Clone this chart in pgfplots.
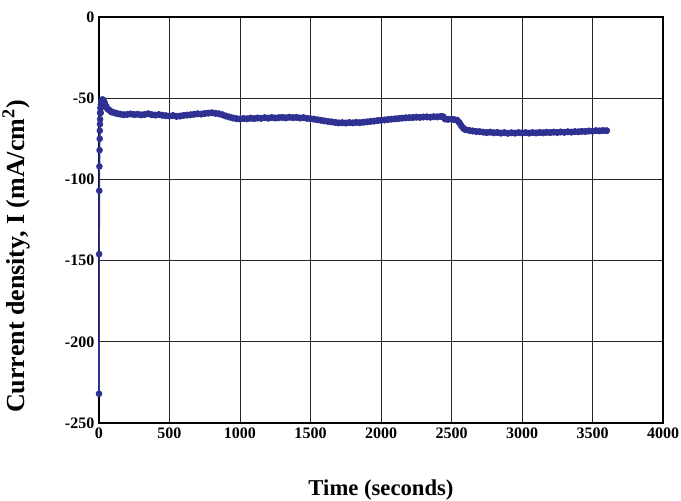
\documentclass[border=0pt]{standalone}
\usepackage{pgfplots}
\pgfplotsset{compat=1.18}
\usepackage{fontspec}
\setmainfont{Liberation Serif}
\definecolor{datablue}{RGB}{46,49,146}

\begin{document}
\begin{tikzpicture}
	\begin{axis}[
		scale only axis,
		width=423pt,
		height=304.5pt,
		xmin=0, xmax=4000,
		ymin=-250, ymax=0,
		xtick distance=500,
		ytick distance=50,
		grid=major,
		major grid style={black!85, line width=0.6pt},
		axis line style={black, line width=1.3pt},
		tick style={draw=none},
		clip=false,
		/pgf/number format/assume math mode=true,
		/pgf/number format/1000 sep={},
		tick label style={font=\bfseries\fontsize{12}{14}\selectfont},
		xlabel={Time (seconds)},
		ylabel={Current density, I (mA/cm\textsuperscript{2})},
		xlabel style={font=\bfseries\fontsize{17}{20}\selectfont, at={(axis description cs:0.5,-0.165)}, anchor=center},
		ylabel style={font=\bfseries\fontsize{19.5}{22}\selectfont, at={(axis description cs:-0.147,0.41)}, anchor=center},
	]
		% first seconds: steep rise, thin line
		\addplot[datablue, line width=1.2pt, mark=*, mark size=2.2pt, mark options={fill=datablue, draw=datablue, line width=0.5pt}]
			coordinates {
			(0,-232) (1,-146) (2,-107) (3,-92) (4,-82) (5,-75) (6,-70) (7,-66) (8,-63)
			(10,-59)
			};
		% rest of the run
		\addplot[datablue, line width=2.6pt, mark=*, mark size=2.4pt, mark options={fill=datablue, draw=datablue, line width=0.5pt}]
			coordinates {
			(10,-59) (12,-56) (15,-54) (18,-52) (22,-51) (27,-51) (33,-52) (40,-53)
			(50,-55) (60,-56.5) (75,-57.5) (90,-58.5) (110,-59) (130,-59.5)
			(150,-59.8) (175,-60.2) (200,-60) (225,-59.7) (250,-60.1) (275,-59.9)
			(300,-60.3) (325,-60) (350,-59.6) (375,-60.2) (400,-60.4) (425,-60.1)
			(450,-60.5) (475,-60.8) (500,-61) (525,-60.7) (550,-61.2) (575,-61)
			(600,-60.6) (625,-60.4) (650,-60.2) (675,-59.9) (700,-59.6) (725,-59.8)
			(750,-59.4) (775,-59.2) (800,-59) (825,-59.3) (850,-59.6) (875,-60.2)
			(900,-61) (925,-61.6) (950,-62.2) (975,-62.6) (1000,-62.8) (1025,-62.5)
			(1050,-62.7) (1075,-62.3) (1100,-62.6) (1125,-62.2) (1150,-62.4) (1175,-62)
			(1200,-62.3) (1225,-61.9) (1250,-62.2) (1275,-62) (1300,-61.8) (1325,-62.1)
			(1350,-61.7) (1375,-62) (1400,-61.8) (1425,-62.2) (1450,-62) (1475,-62.4)
			(1500,-62.6) (1525,-62.9) (1550,-63.3) (1575,-63.6) (1600,-64) (1625,-64.3)
			(1650,-64.6) (1675,-64.9) (1700,-65.2) (1725,-65.1) (1750,-65.3) (1775,-65)
			(1800,-65.2) (1825,-64.9) (1850,-65.1) (1875,-64.8) (1900,-64.6) (1925,-64.3)
			(1950,-64.1) (1975,-63.8) (2000,-63.6) (2025,-63.4) (2050,-63.1) (2075,-62.9)
			(2100,-62.7) (2125,-62.5) (2150,-62.3) (2175,-62.1) (2200,-62) (2225,-61.9)
			(2250,-61.7) (2275,-61.8) (2300,-61.6) (2325,-61.5) (2350,-61.7) (2375,-61.4)
			(2400,-61.5) (2425,-61.2) (2440,-61.4) (2455,-62.8) (2475,-63) (2500,-62.9)
			(2520,-63.2) (2540,-63.6) (2555,-65) (2570,-67) (2585,-68.6) (2600,-69.4)
			(2625,-69.8) (2650,-70.2) (2675,-70.5) (2700,-70.6) (2725,-70.9) (2750,-71.2)
			(2775,-70.9) (2800,-71.3) (2825,-71.1) (2850,-71.5) (2875,-71.2) (2900,-71.6)
			(2925,-71.3) (2950,-71.5) (2975,-71.2) (3000,-71.4) (3025,-71.2) (3050,-71.5)
			(3075,-71.2) (3100,-71.4) (3125,-71.1) (3150,-71.3) (3175,-71) (3200,-71.2)
			(3225,-70.9) (3250,-71.1) (3275,-70.8) (3300,-71) (3325,-70.7) (3350,-70.9)
			(3375,-70.6) (3400,-70.7) (3425,-70.4) (3450,-70.5) (3475,-70.2) (3500,-70.3)
			(3525,-70) (3550,-70.1) (3575,-69.9) (3600,-70)
			};
	\end{axis}
	\pgfresetboundingbox
	\path ([shift={(-74.25pt,-58.5pt)}]current axis.south west) rectangle ([shift={(13.5pt,12.75pt)}]current axis.north east);
\end{tikzpicture}
\end{document}
